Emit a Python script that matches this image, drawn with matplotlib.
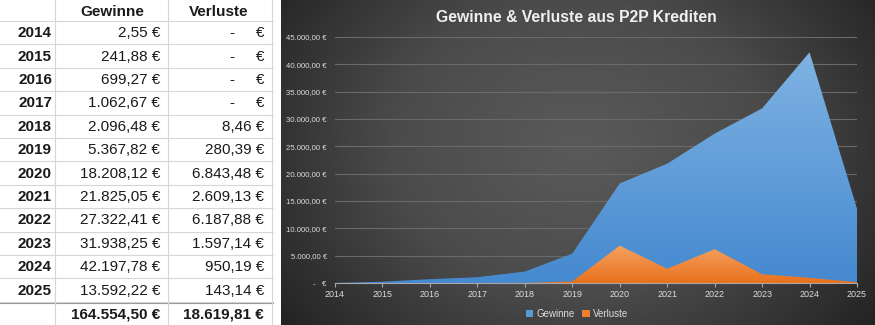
import numpy as np
import matplotlib.pyplot as plt
from matplotlib.patches import Polygon, Patch
from matplotlib.colors import LinearSegmentedColormap
from matplotlib.ticker import FuncFormatter, MultipleLocator

plt.rcParams['font.family'] = ['Liberation Sans', 'DejaVu Sans']

jahre = [2014, 2015, 2016, 2017, 2018, 2019, 2020, 2021, 2022, 2023, 2024, 2025]
gewinne = [2.55, 241.88, 699.27, 1062.67, 2096.48, 5367.82, 18208.12,
           21825.05, 27322.41, 31938.25, 42197.78, 13592.22]
verluste = [0, 0, 0, 0, 8.46, 280.39, 6843.48,
            2609.13, 6187.88, 1597.14, 950.19, 143.14]


def eur(v):
    s = f"{v:,.2f}".replace(",", "X").replace(".", ",").replace("X", ".")
    return s + " €"


W, H = 875, 325
fig = plt.figure(figsize=(W / 100, H / 100), dpi=100)

# ---- table on the left, drawn in pixel coordinates
tab = fig.add_axes([0, 0, 280 / W, 1])
tab.set_xlim(0, 280)
tab.set_ylim(H, 0)
tab.axis('off')

top, rh = 21.0, 23.4
grid_c = '#d6d6d6'
n = len(jahre)
for k in range(n + 1):
    y = top + k * rh
    tab.plot([0, 273], [y, y], color=grid_c, lw=0.8)
tab.plot([0, 273], [top + n * rh + 1.5] * 2, color='#9a9a9a', lw=0.8)
for x in (55, 168, 272):
    tab.plot([x, x], [0, H], color=grid_c, lw=0.8)

fs = 11
tab.text(112, top / 2 + 1, 'Gewinne', ha='center', va='center',
         fontsize=fs, fontweight='bold', color='#1a1a1a')
tab.text(219, top / 2 + 1, 'Verluste', ha='center', va='center',
         fontsize=fs, fontweight='bold', color='#1a1a1a')
for i, (j, g, v) in enumerate(zip(jahre, gewinne, verluste)):
    yc = top + (i + 0.5) * rh + 0.5
    tab.text(52, yc, str(j), ha='right', va='center', fontsize=fs,
             fontweight='bold', color='#1a1a1a')
    tab.text(160, yc, eur(g), ha='right', va='center', fontsize=fs,
             color='#1a1a1a')
    if v == 0:
        tab.text(232, yc, '-', ha='center', va='center', fontsize=fs,
                 color='#1a1a1a')
        tab.text(264, yc, '€', ha='right', va='center', fontsize=fs,
                 color='#1a1a1a')
    else:
        tab.text(264, yc, eur(v), ha='right', va='center', fontsize=fs,
                 color='#1a1a1a')
ytot = top + n * rh + 1.5 + (H - top - n * rh) / 2
tab.text(160, ytot, eur(sum(gewinne)), ha='right', va='center', fontsize=fs,
         fontweight='bold', color='#1a1a1a')
tab.text(264, ytot, eur(sum(verluste)), ha='right', va='center', fontsize=fs,
         fontweight='bold', color='#1a1a1a')

# ---- dark chart background with radial shading
x0 = 281
bg = fig.add_axes([x0 / W, 0, (W - x0) / W, 1])
bg.axis('off')
gx, gy = np.meshgrid(np.linspace(0, 1, 300), np.linspace(0, 1, 120))
r = np.sqrt(((gx - 0.5) / 0.62) ** 2 + ((gy - 0.45) / 0.9) ** 2)
shade = np.clip(1 - r, 0, 1)
bg_cmap = LinearSegmentedColormap.from_list('bg', ['#242424', '#4b4b4b', '#5a5a5a'])
bg.imshow(shade, cmap=bg_cmap, aspect='auto', extent=(0, 1, 0, 1),
          interpolation='bilinear')
bg.set_xlim(0, 1)
bg.set_ylim(0, 1)

# ---- area chart
ax = fig.add_axes([335 / W, 42 / H, (857 - 335) / W, (283 - 37) / H])
ax.patch.set_alpha(0)


def gradient_area(xs, ys, c_top, c_bot, z):
    verts = [(xs[0], 0)] + list(zip(xs, ys)) + [(xs[-1], 0)]
    poly = Polygon(verts, closed=True, facecolor='none', edgecolor='none')
    ax.add_patch(poly)
    cmap = LinearSegmentedColormap.from_list('g', [c_bot, c_top])
    grad = np.linspace(0, 1, 256).reshape(-1, 1)
    im = ax.imshow(grad, cmap=cmap, aspect='auto', origin='lower',
                   extent=(xs[0], xs[-1], 0, max(ys)), zorder=z,
                   interpolation='bilinear')
    im.set_clip_path(poly)


gradient_area(jahre, gewinne, '#7fb3e3', '#4589cf', 2)
gradient_area(jahre, verluste, '#f5a261', '#e9711c', 3)
ax.set_xlim(jahre[0], jahre[-1])
ax.set_ylim(0, 45000)

ax.yaxis.set_major_locator(MultipleLocator(5000))
ax.yaxis.set_major_formatter(FuncFormatter(
    lambda v, p: '-   €' if v == 0 else eur(v)))
ax.set_xticks(jahre)
ax.grid(axis='y', color='#6a6a6a', lw=0.8)
ax.set_axisbelow(True)
for s in ('top', 'right', 'left'):
    ax.spines[s].set_visible(False)
ax.spines['bottom'].set_color('#a8a8a8')
ax.spines['bottom'].set_linewidth(0.8)
ax.spines['bottom'].set_zorder(4)
ax.tick_params(axis='y', length=0, labelsize=5.6, labelcolor='#dcdcdc', pad=6)
ax.tick_params(axis='x', length=3, color='#a8a8a8', labelsize=6.5,
               labelcolor='#dcdcdc', pad=2)

fig.text(576 / W, 1 - 17 / H, 'Gewinne & Verluste aus P2P Krediten',
         ha='center', va='center', fontsize=11.3, fontweight='bold',
         color='#f0f0f0')

handles = [Patch(facecolor='#5b9bd5', label='Gewinne'),
           Patch(facecolor='#ed7d31', label='Verluste')]
ax.legend(handles=handles, loc='center', bbox_to_anchor=(577 / W, 11 / H),
          bbox_transform=fig.transFigure, ncol=2, frameon=False, fontsize=7,
          labelcolor='#dcdcdc', handlelength=0.8, handleheight=0.8,
          handletextpad=0.3, columnspacing=0.8)

fig.savefig('out.png', dpi=100)
